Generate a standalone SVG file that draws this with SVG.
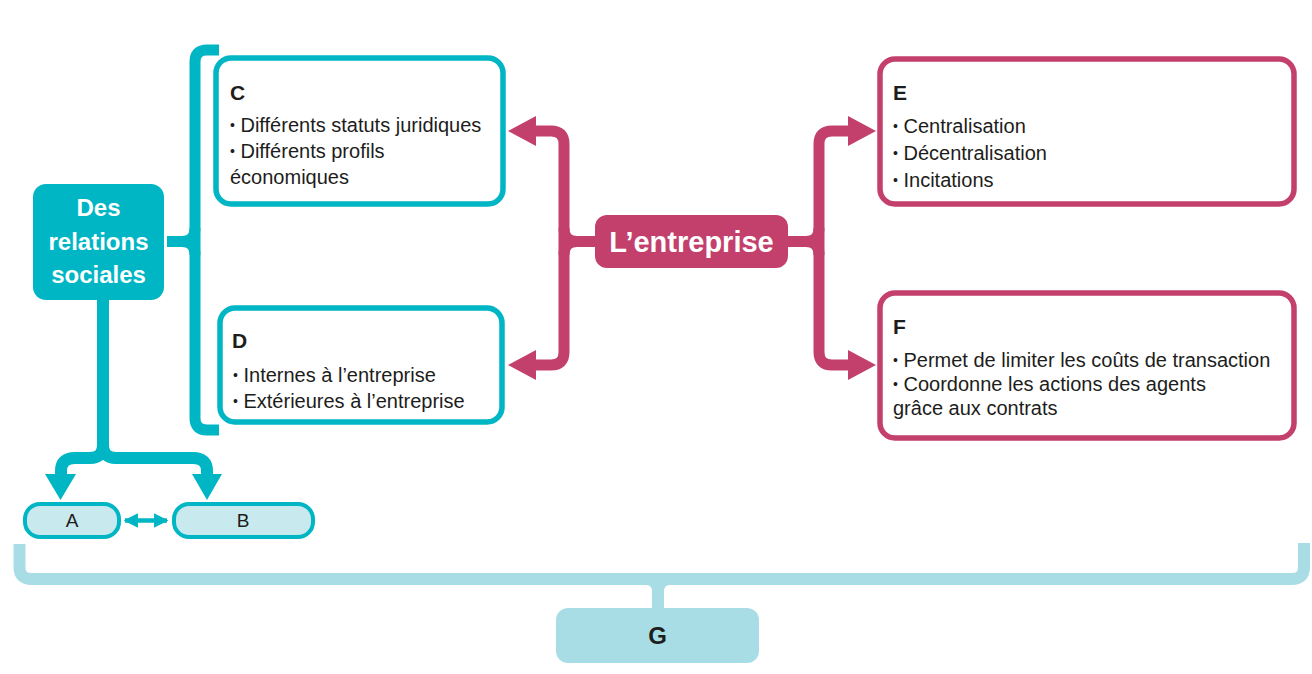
<svg xmlns="http://www.w3.org/2000/svg" width="1312" height="674" viewBox="0 0 1312 674">
<style>
.teal{fill:none;stroke:#00B6C4;stroke-width:11}
.mag{fill:none;stroke:#C3406C;stroke-width:11}
.lb{fill:none;stroke:#A9DDE5;stroke-width:12}
.box{fill:#fff;stroke-width:5.5}
.bt{stroke:#00B6C4}
.bm{stroke:#C3406C}
.t{font-family:"Liberation Sans",Arial,sans-serif;font-size:20px;fill:#1d1d1b}
.b{font-size:14px}
.h{font-family:"Liberation Sans",Arial,sans-serif;font-size:21px;font-weight:bold;fill:#1d1d1b}
.w{font-family:"Liberation Sans",Arial,sans-serif;font-weight:bold;fill:#fff;text-anchor:middle}
.s{font-family:"Liberation Sans",Arial,sans-serif;font-size:19px;fill:#1d1d1b;text-anchor:middle}
.g{font-family:"Liberation Sans",Arial,sans-serif;font-size:24px;font-weight:bold;fill:#1d1d1b;text-anchor:middle}
</style>
<defs>
<marker id="ta" viewBox="0 0 10 10" refX="9" refY="5" markerWidth="3.2" markerHeight="3.2" orient="auto-start-reverse"><path d="M0 0L10 5L0 10z" fill="#00B6C4"/></marker>
</defs>
<g id="connectors">
<path class="teal" d="M219 50H207Q195 50 195 62V418Q195 430 207 430H219"/>
<path class="teal" d="M167 241.5H182Q195 241.5 195 228M182 241.5Q195 241.5 195 255"/>
<path class="mag" d="M536 131H551Q564 131 564 144V352Q564 365 551 365H536"/>
<path class="mag" d="M596 241.5H577Q564 241.5 564 228M577 241.5Q564 241.5 564 255"/>
<polygon points="508,131 536,116 536,146" fill="#C3406C"/>
<polygon points="508,365 536,350 536,380" fill="#C3406C"/>
<path class="mag" d="M848 131H832Q819 131 819 144V352Q819 365 832 365H848"/>
<path class="mag" d="M787 241.5H806Q819 241.5 819 228M806 241.5Q819 241.5 819 255"/>
<polygon points="876,131 848,116 848,146" fill="#C3406C"/>
<polygon points="876,365 848,350 848,380" fill="#C3406C"/>
<path class="teal" style="stroke-width:12" d="M103 299V445Q103 458 90 458H75Q61 458 61 471V476M103 445Q103 458 116 458H193Q207 458 207 471V476"/>
<polygon points="45,474 76,474 60.5,500" fill="#00B6C4"/>
<polygon points="192,474 222,474 207,500" fill="#00B6C4"/>
<line x1="125" y1="520.5" x2="167" y2="520.5" stroke="#00B6C4" stroke-width="4.5" marker-start="url(#ta)" marker-end="url(#ta)"/>
<path class="lb" d="M19.5 544V567Q19.5 579 31.5 579H1292Q1304 579 1304 567V543"/>
<path class="lb" d="M645 579Q658 579 658 592V608M671 579Q658 579 658 592"/>
</g>
<g id="node-relations">
<rect x="33" y="184" width="131" height="116" rx="13" fill="#00B6C4"/>
<text class="w" font-size="24" x="98.5" y="216">Des</text>
<text class="w" font-size="24" x="98.5" y="250">relations</text>
<text class="w" font-size="24" x="98.5" y="283">sociales</text>
</g>
<g id="node-C">
<rect class="box bt" x="216" y="58" width="287" height="146" rx="15"/>
<text class="h" x="230" y="100">C</text>
<text class="t" x="230" y="132"><tspan class="b" dy="-2">•</tspan><tspan dy="2"> Différents statuts juridiques</tspan></text>
<text class="t" x="230" y="158"><tspan class="b" dy="-2">•</tspan><tspan dy="2"> Différents profils</tspan></text>
<text class="t" x="230" y="184">économiques</text>
</g>
<g id="node-D">
<rect class="box bt" x="220" y="308" width="282" height="114" rx="15"/>
<text class="h" x="232" y="348">D</text>
<text class="t" x="233" y="382"><tspan class="b" dy="-2">•</tspan><tspan dy="2"> Internes à l’entreprise</tspan></text>
<text class="t" x="233" y="408"><tspan class="b" dy="-2">•</tspan><tspan dy="2"> Extérieures à l’entreprise</tspan></text>
</g>
<g id="node-entreprise">
<rect x="595" y="215" width="193" height="53" rx="12" fill="#C3406C"/>
<text class="w" font-size="29" x="691.5" y="252">L’entreprise</text>
</g>
<g id="node-E">
<rect class="box bm" x="880" y="59" width="414" height="145" rx="15"/>
<text class="h" x="893" y="100">E</text>
<text class="t" x="893" y="133"><tspan class="b" dy="-2">•</tspan><tspan dy="2"> Centralisation</tspan></text>
<text class="t" x="893" y="160"><tspan class="b" dy="-2">•</tspan><tspan dy="2"> Décentralisation</tspan></text>
<text class="t" x="893" y="187"><tspan class="b" dy="-2">•</tspan><tspan dy="2"> Incitations</tspan></text>
</g>
<g id="node-F">
<rect class="box bm" x="880" y="293" width="414" height="145" rx="15"/>
<text class="h" x="893" y="334">F</text>
<text class="t" x="893" y="367"><tspan class="b" dy="-2">•</tspan><tspan dy="2"> Permet de limiter les coûts de transaction</tspan></text>
<text class="t" x="893" y="391"><tspan class="b" dy="-2">•</tspan><tspan dy="2"> Coordonne les actions des agents</tspan></text>
<text class="t" x="893" y="415">grâce aux contrats</text>
</g>
<g id="node-A">
<rect x="25" y="504" width="94" height="33" rx="15" fill="#C8E9EE" stroke="#00B6C4" stroke-width="4"/>
<text class="s" x="72" y="527">A</text>
</g>
<g id="node-B">
<rect x="174" y="504" width="139" height="33" rx="15" fill="#C8E9EE" stroke="#00B6C4" stroke-width="4"/>
<text class="s" x="243" y="527">B</text>
</g>
<g id="node-G">
<rect x="556" y="608" width="203" height="55" rx="12" fill="#A9DDE5"/>
<text class="g" x="657.5" y="644">G</text>
</g>
</svg>
